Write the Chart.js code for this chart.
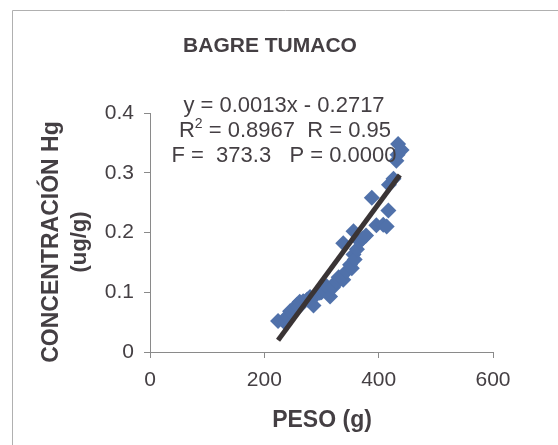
<!DOCTYPE html>
<html>
<head>
<meta charset="utf-8">
<script src="https://cdn.jsdelivr.net/npm/chart.js@4/dist/chart.umd.min.js"></script>
<style>
  body { margin: 0; background: #fff; }
  canvas { display: block; }
</style>
</head>
<body>
<canvas id="hgChart" width="558" height="445"></canvas>
<script>
// --- Data: peso (g) vs concentración Hg (ug/g) ---
const peso = [224, 236, 240, 245, 252, 257, 260, 262, 268, 275, 280, 286, 290, 297, 300, 303, 309, 315,
              320, 326, 330, 332, 338, 338, 344, 350, 353, 356, 356, 358, 362, 367, 372, 378, 388, 396,
              408, 414, 417, 418, 426, 431, 433, 434, 440];
const hg = [0.052, 0.049, 0.060, 0.068, 0.072, 0.079, 0.075, 0.084, 0.085, 0.088, 0.092, 0.078, 0.095, 0.099, 0.100, 0.104, 0.110, 0.093,
            0.108, 0.118, 0.125, 0.121, 0.121, 0.182, 0.135, 0.146, 0.140, 0.163, 0.202, 0.155, 0.172, 0.185, 0.190, 0.195, 0.258, 0.212,
            0.213, 0.210, 0.237, 0.280, 0.290, 0.320, 0.330, 0.348, 0.338];

// regression y = 0.0013x - 0.2717, drawn over the observed weight range
const slope = 0.0013;
const intercept = -0.2717;
const fitRange = [224, 437];

const xTicks = [0, 200, 400, 600];
const yTicks = [0, 0.1, 0.2, 0.3, 0.4];

const statLines = ['y = 0.0013x - 0.2717', 'R2 = 0.8967  R = 0.95', 'F =  373.3   P = 0.0000'];

const TEXT = '#443f43';
const AXIS = '#8a8a8a';
const FONT = '"Liberation Sans", Arial, sans-serif';

const points = peso.map((x, i) => ({ x: x, y: hg[i] }));
const fitLine = fitRange.map(x => ({ x: x, y: slope * x + intercept }));

// --- Frame, titles and regression stats ---
const decorations = {
    id: 'decorations',
    beforeDraw(chart) {
        const ctx = chart.ctx;
        ctx.save();
        ctx.fillStyle = '#fff';
        ctx.fillRect(0, 0, chart.width, chart.height);
        ctx.strokeStyle = '#b0b0b0';
        ctx.lineWidth = 1;
        ctx.beginPath();
        ctx.moveTo(12.5, 445);
        ctx.lineTo(12.5, 10.5);
        ctx.lineTo(558, 10.5);
        ctx.stroke();
        ctx.restore();
    },
    afterDatasetsDraw(chart) {
        const ctx = chart.ctx;
        ctx.save();
        ctx.fillStyle = TEXT;
        ctx.textAlign = 'center';
        ctx.textBaseline = 'middle';

        ctx.font = 'bold 21px ' + FONT;
        ctx.fillText('BAGRE TUMACO', 270, 46);
        ctx.font = 'bold 23px ' + FONT;
        ctx.fillText('PESO (g)', 322, 421);

        // y axis title, two rotated lines
        ctx.save();
        ctx.translate(52, 242);
        ctx.rotate(-Math.PI / 2);
        ctx.font = 'bold 23px ' + FONT;
        ctx.fillText('CONCENTRACIÓN Hg', 0, 0);
        ctx.font = 'bold 22px ' + FONT;
        ctx.fillText('(ug/g)', 0, 28);
        ctx.restore();

        // equation and statistics
        const big = '22px ' + FONT;
        const small = '14px ' + FONT;
        ctx.font = big;
        ctx.fillText(statLines[0], 284, 106);

        const rest = statLines[1].slice(2);
        const wR = ctx.measureText('R').width;
        const wRest = ctx.measureText(rest).width;
        ctx.font = small;
        const w2 = ctx.measureText('2').width;
        const x = 285 - (wR + w2 + wRest) / 2;
        ctx.textAlign = 'left';
        ctx.font = big;
        ctx.fillText('R', x, 131);
        ctx.font = small;
        ctx.fillText('2', x + wR, 124);
        ctx.font = big;
        ctx.fillText(rest, x + wR + w2, 131);

        ctx.textAlign = 'center';
        ctx.fillText(statLines[2], 284, 156);
        ctx.restore();
    }
};

new Chart(document.getElementById('hgChart'), {
    type: 'scatter',
    data: {
        datasets: [
            {
                label: 'Hg',
                data: points,
                pointStyle: 'rectRot',
                pointRadius: 8,
                pointBorderWidth: 0,
                backgroundColor: '#5071aa',
                borderColor: '#5071aa',
                order: 2
            },
            {
                type: 'line',
                label: 'ajuste',
                data: fitLine,
                borderColor: '#3a3435',
                borderWidth: 5,
                pointRadius: 0,
                fill: false,
                order: 1
            }
        ]
    },
    options: {
        responsive: false,
        animation: false,
        layout: { padding: { left: 0, top: 113, right: 65, bottom: 0 } },
        plugins: {
            legend: { display: false },
            title: { display: false },
            tooltip: { enabled: false }
        },
        scales: {
            x: {
                type: 'linear',
                min: 0,
                max: 600,
                afterFit: s => { s.height = 93; },
                afterBuildTicks: s => { s.ticks = xTicks.map(v => ({ value: v })); },
                grid: { drawOnChartArea: false, drawTicks: true, tickLength: 6, color: AXIS },
                border: { color: AXIS, width: 1 },
                ticks: {
                    color: TEXT,
                    padding: 10,
                    maxRotation: 0,
                    font: { family: FONT, size: 21 }
                }
            },
            y: {
                type: 'linear',
                min: 0,
                max: 0.4,
                afterFit: s => { s.width = 150; },
                afterBuildTicks: s => { s.ticks = yTicks.map(v => ({ value: v })); },
                grid: { drawOnChartArea: false, drawTicks: true, tickLength: 6, color: AXIS },
                border: { color: AXIS, width: 1 },
                ticks: {
                    color: TEXT,
                    padding: 10,
                    callback: v => String(+v.toFixed(1)),
                    font: { family: FONT, size: 21 }
                }
            }
        }
    },
    plugins: [decorations]
});
</script>
</body>
</html>
